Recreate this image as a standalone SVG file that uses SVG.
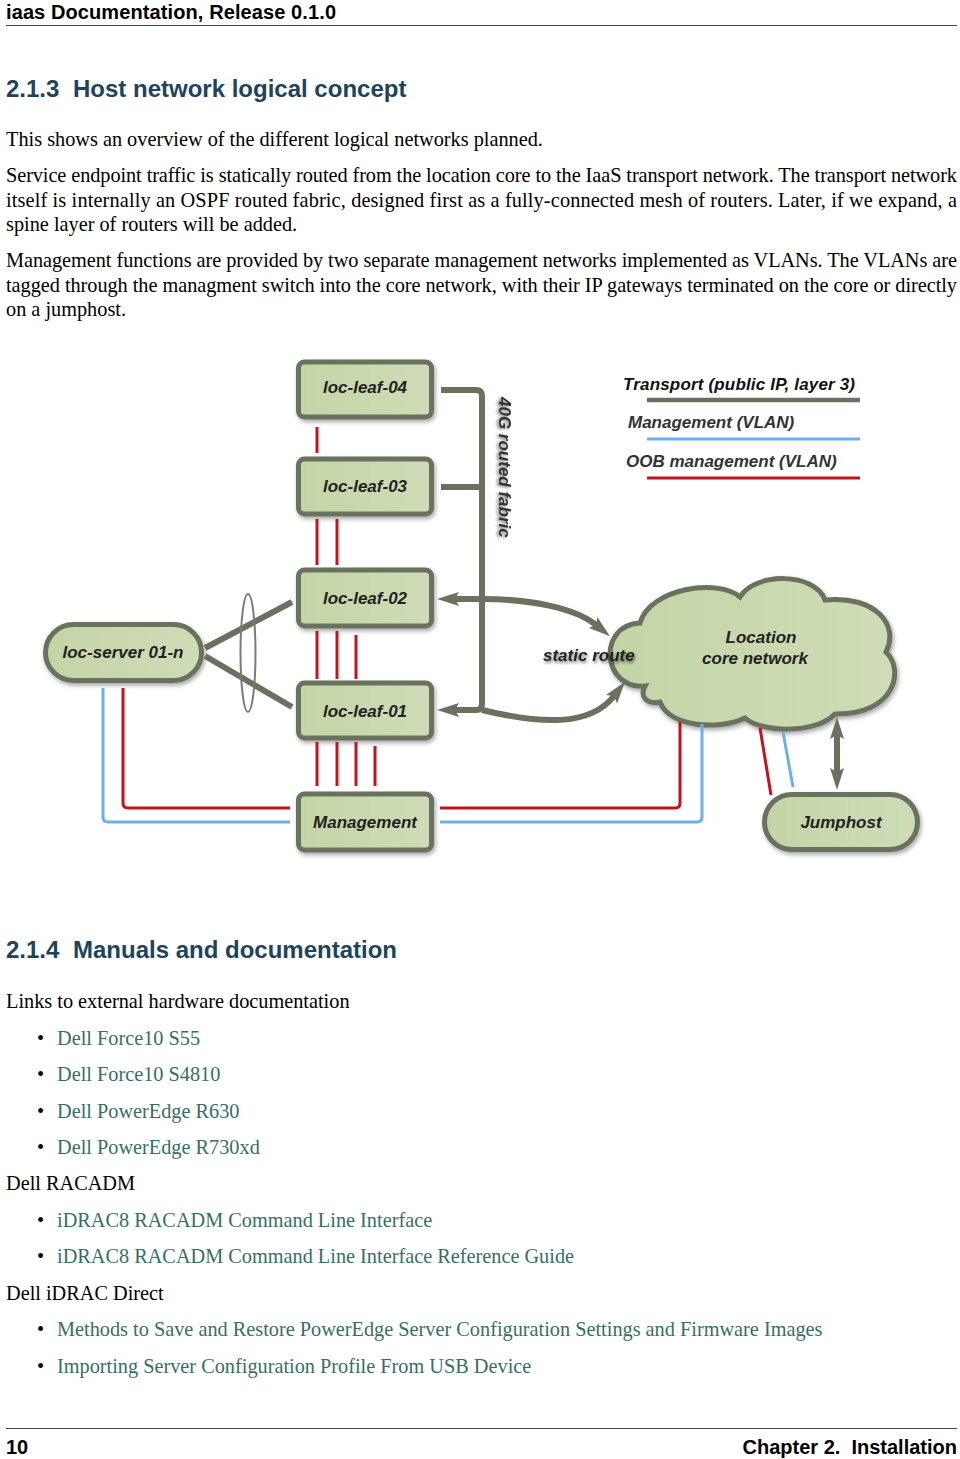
<svg xmlns="http://www.w3.org/2000/svg" width="960" height="1459" viewBox="0 0 960 1459">
<defs>
<style>
.hdr{font-family:"Liberation Sans",Arial,sans-serif;font-weight:bold;font-size:20px;fill:#000}
.h2{font-family:"Liberation Sans",Arial,sans-serif;font-weight:bold;font-size:24px;fill:#20435c}
.body{font-family:"Liberation Serif","Times New Roman",serif;font-size:20.3px;fill:#000}
.link{font-family:"Liberation Serif","Times New Roman",serif;font-size:20.3px;fill:#377063}
.lbl{font-family:"Liberation Sans",Arial,sans-serif;font-weight:bold;font-style:italic;font-size:17px;fill:#222}
.box{fill:url(#g);stroke:#68725e;stroke-width:5}
.tr{fill:none;stroke:#68725e;stroke-width:6}
.red{fill:none;stroke:#c0141e;stroke-width:3}
.blue{fill:none;stroke:#6cb0e8;stroke-width:3}
</style>
<linearGradient id="g" x1="0" y1="0" x2="1" y2="0">
<stop offset="0" stop-color="#c3d5a5"/>
<stop offset="1" stop-color="#cfdcb7"/>
</linearGradient>
<filter id="sh" x="-10%" y="-10%" width="125%" height="130%">
<feDropShadow dx="1.5" dy="2.5" stdDeviation="2" flood-color="#000" flood-opacity="0.35"/>
</filter>
<filter id="tsh" x="-10%" y="-30%" width="120%" height="170%">
<feDropShadow dx="1" dy="2" stdDeviation="1.5" flood-color="#000" flood-opacity="0.55"/>
</filter>
<marker id="ah" viewBox="0 0 22 14" refX="4" refY="7" markerWidth="22" markerHeight="14" markerUnits="userSpaceOnUse" orient="auto-start-reverse">
<path d="M0,0 L22,7 L0,14 L4,7 z" fill="#68725e"/>
</marker>
</defs>

<g id="page-text">
<text class="hdr" x="6" y="19" textLength="330">iaas Documentation, Release 0.1.0</text>
<line x1="6" y1="25.5" x2="957" y2="25.5" stroke="#444" stroke-width="1.2"/>
<text class="h2" y="97"><tspan x="6">2.1.3</tspan><tspan x="73">Host network logical concept</tspan></text>
<text class="body" x="6" y="146">This shows an overview of the different logical networks planned.</text>
<text class="body" x="6" y="182" textLength="951">Service endpoint traffic is statically routed from the location core to the IaaS transport network. The transport network</text>
<text class="body" x="6" y="207" textLength="951">itself is internally an OSPF routed fabric, designed first as a fully-connected mesh of routers. Later, if we expand, a</text>
<text class="body" x="6" y="231">spine layer of routers will be added.</text>
<text class="body" x="6" y="267" textLength="951">Management functions are provided by two separate management networks implemented as VLANs. The VLANs are</text>
<text class="body" x="6" y="292" textLength="951">tagged through the managment switch into the core network, with their IP gateways terminated on the core or directly</text>
<text class="body" x="6" y="316">on a jumphost.</text>

<text class="h2" y="958"><tspan x="6">2.1.4</tspan><tspan x="73">Manuals and documentation</tspan></text>
<text class="body" x="6" y="1008">Links to external hardware documentation</text>
<text class="body" x="37" y="1045">•</text><text class="link" x="57" y="1045">Dell Force10 S55</text>
<text class="body" x="37" y="1081">•</text><text class="link" x="57" y="1081">Dell Force10 S4810</text>
<text class="body" x="37" y="1118">•</text><text class="link" x="57" y="1118">Dell PowerEdge R630</text>
<text class="body" x="37" y="1154">•</text><text class="link" x="57" y="1154">Dell PowerEdge R730xd</text>
<text class="body" x="6" y="1190">Dell RACADM</text>
<text class="body" x="37" y="1227">•</text><text class="link" x="57" y="1227">iDRAC8 RACADM Command Line Interface</text>
<text class="body" x="37" y="1263">•</text><text class="link" x="57" y="1263">iDRAC8 RACADM Command Line Interface Reference Guide</text>
<text class="body" x="6" y="1300">Dell iDRAC Direct</text>
<text class="body" x="37" y="1336">•</text><text class="link" x="57" y="1336">Methods to Save and Restore PowerEdge Server Configuration Settings and Firmware Images</text>
<text class="body" x="37" y="1373">•</text><text class="link" x="57" y="1373">Importing Server Configuration Profile From USB Device</text>

<line x1="6" y1="1428.5" x2="957" y2="1428.5" stroke="#444" stroke-width="1.2"/>
<text class="hdr" x="6" y="1454">10</text>
<text class="hdr" x="957" y="1454" text-anchor="end">Chapter 2.&#160; Installation</text>
</g>

<g id="legend">
<text class="lbl" x="623" y="390" textLength="232" style="fill:#111">Transport (public IP, layer 3)</text>
<line x1="647" y1="400" x2="860" y2="400" stroke="#68725e" stroke-width="4.5"/>
<text class="lbl" x="628" y="428" style="fill:#333">Management (VLAN)</text>
<line x1="647" y1="439" x2="860" y2="439" class="blue"/>
<text class="lbl" x="626" y="467" style="fill:#333">OOB management (VLAN)</text>
<line x1="647" y1="478" x2="860" y2="478" class="red"/>
</g>

<g id="node-leaf-04"><rect class="box" x="298.5" y="362" width="133" height="55" rx="6" filter="url(#sh)"/><text class="lbl" x="365" y="393" text-anchor="middle">loc-leaf-04</text></g>
<g id="node-leaf-03"><rect class="box" x="298.5" y="459" width="133" height="55" rx="6" filter="url(#sh)"/><text class="lbl" x="365" y="492" text-anchor="middle">loc-leaf-03</text></g>
<g id="node-leaf-02"><rect class="box" x="298.5" y="570" width="133" height="56" rx="6" filter="url(#sh)"/><text class="lbl" x="365" y="604" text-anchor="middle">loc-leaf-02</text></g>
<g id="node-leaf-01"><rect class="box" x="298.5" y="683" width="133" height="55" rx="6" filter="url(#sh)"/><text class="lbl" x="365" y="717" text-anchor="middle">loc-leaf-01</text></g>
<g id="node-management"><rect class="box" x="298.5" y="794" width="133" height="56" rx="6" filter="url(#sh)"/><text class="lbl" x="365" y="828" text-anchor="middle">Management</text></g>
<g id="node-server"><rect class="box" x="45.5" y="624.5" width="156" height="56" rx="28" filter="url(#sh)"/><text class="lbl" x="123" y="658" text-anchor="middle">loc-server 01-n</text></g>
<g id="node-jumphost"><rect class="box" x="764.5" y="794.5" width="153" height="55" rx="27.5" filter="url(#sh)"/><text class="lbl" x="841" y="828" text-anchor="middle">Jumphost</text></g>
<g id="node-core"><path class="box" filter="url(#sh)" d="M640,623 C650,588 718,578 740,597 C755,572 815,572 825,600 C875,595 900,625 886,652 C905,670 895,715 835,714 C815,735 760,732 745,718 C720,730 670,728 660,702 C645,705 640,695 645,686 C602,690 597,625 640,623 Z"/><text class="lbl" x="761" y="643" text-anchor="middle">Location</text><text class="lbl" x="755" y="664" text-anchor="middle">core network</text></g>

<g id="connectors">
<path class="tr" d="M441,390 H476 Q482,390 482,396 V704 Q482,710 476,710 H455" marker-end="url(#ah)"/>
<path class="tr" d="M441,487 H482"/>
<path class="tr" d="M455,599 H482 C530,599 575,608 596,625" marker-start="url(#ah)" marker-end="url(#ah)"/>
<path class="tr" d="M482,710 C540,724 590,727 614,696" marker-end="url(#ah)"/>
<circle cx="482" cy="599" r="4.5" fill="#68725e"/>
<path class="tr" d="M837,735 V772" marker-start="url(#ah)" marker-end="url(#ah)"/>
<line class="tr" x1="205" y1="648" x2="292" y2="602"/>
<line class="tr" x1="205" y1="656" x2="292" y2="707"/>
<ellipse cx="248" cy="653" rx="7.5" ry="59" fill="none" stroke="#7a7a7a" stroke-width="2"/>
<line class="red" x1="317" y1="427" x2="317" y2="453"/>
<line class="red" x1="317" y1="519" x2="317" y2="565"/>
<line class="red" x1="337" y1="519" x2="337" y2="565"/>
<line class="red" x1="317" y1="631" x2="317" y2="679"/>
<line class="red" x1="337" y1="631" x2="337" y2="679"/>
<line class="red" x1="356" y1="635" x2="356" y2="679"/>
<line class="red" x1="317" y1="742" x2="317" y2="786"/>
<line class="red" x1="337" y1="742" x2="337" y2="786"/>
<line class="red" x1="356" y1="742" x2="356" y2="786"/>
<line class="red" x1="375" y1="746" x2="375" y2="786"/>
<path class="red" d="M123,688 V803 Q123,808 128,808 H290"/>
<path class="red" d="M440,808 H675 Q680,808 680,803 V722"/>
<line class="red" x1="760" y1="728" x2="771" y2="795"/>
<path class="blue" d="M103,688 V817 Q103,822 108,822 H290"/>
<path class="blue" d="M440,822 H697 Q702,822 702,817 V724"/>
<line class="blue" x1="783" y1="732" x2="793" y2="787"/>
</g>

<g id="labels">
<text class="lbl" x="499" y="397" transform="rotate(90 499 397)" filter="url(#tsh)" style="fill:#333">40G routed fabric</text>
<text class="lbl" x="543" y="661" filter="url(#tsh)" style="fill:#222">static route</text>
</g>
</svg>
